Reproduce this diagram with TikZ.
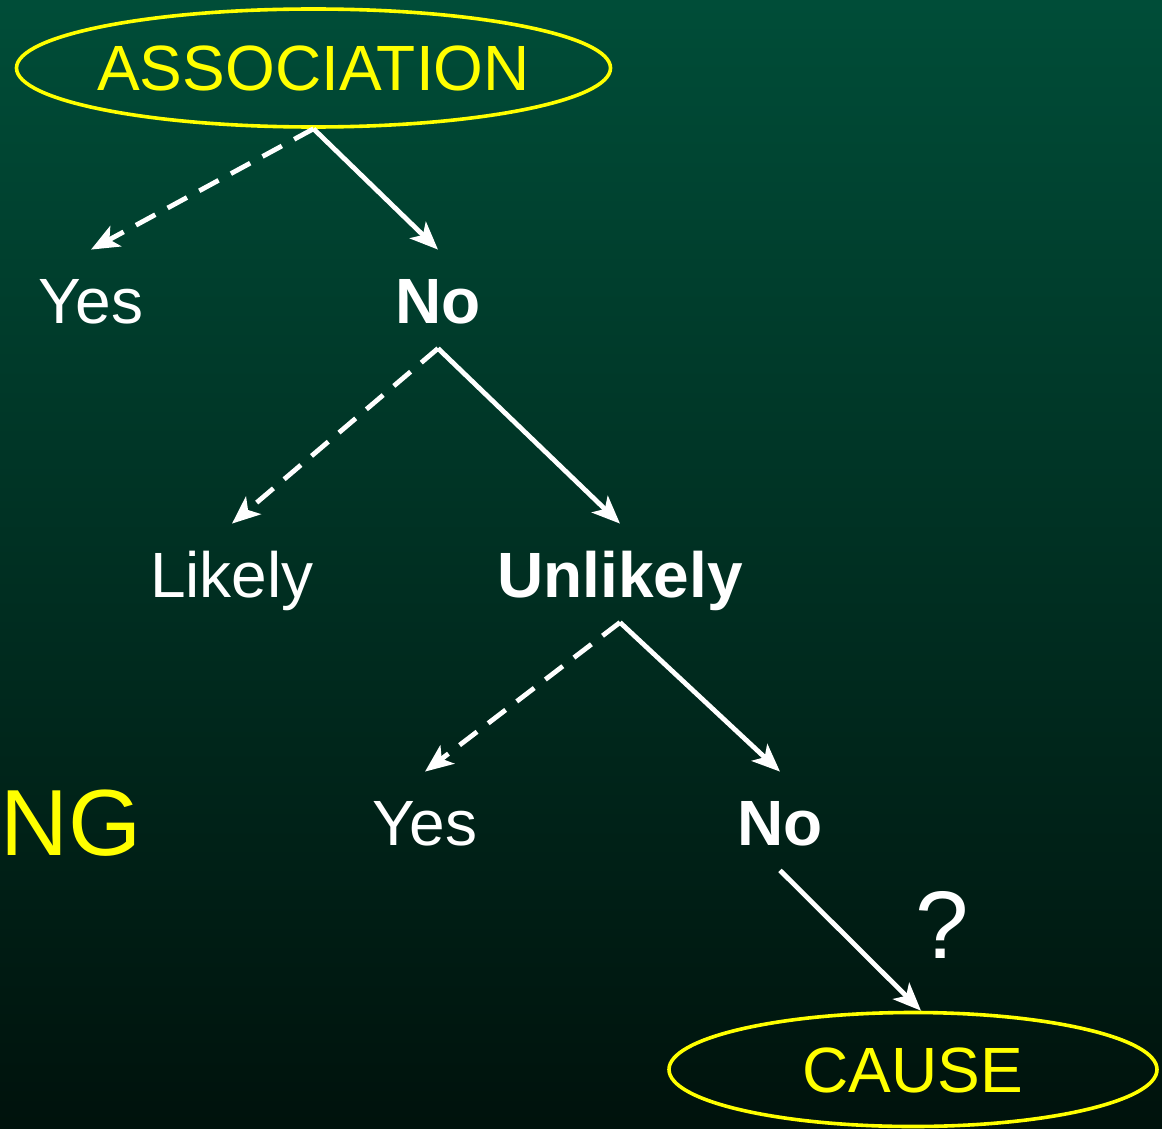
\documentclass[tikz,border=0pt]{standalone}
\usepackage{fontspec}
\setmainfont{Liberation Sans}
\usetikzlibrary{shapes.geometric,arrows.meta}
\definecolor{bgtop}{HTML}{004D38}
\definecolor{bgbot}{HTML}{00120C}
\definecolor{ylw}{HTML}{FFFF00}
\tikzset{
  lbl/.style={text=white, font=\fontsize{32}{36}\selectfont, text height=24pt, text depth=0pt,
              inner xsep=0pt, inner ysep=12.5pt, anchor=base},
  oval/.style={ellipse, draw=ylw, line width=1.8pt, text=ylw, font=\fontsize{32}{36}\selectfont,
               text height=23pt, text depth=0pt, inner sep=0pt},
  tip/.style={-{Stealth[length=14pt,width=11.5pt,inset=3.5pt]}},
  solidarrow/.style={draw=white, line width=2.4pt, tip},
  dasharrow/.style={draw=white, line width=2.4pt, tip, dash pattern=on 11pt off 7pt}
}
\begin{document}
\begin{tikzpicture}[x=0.5pt,y=-0.5pt]
\shade[top color=bgtop, bottom color=bgbot] (0,0) rectangle (1162,1129);
\useasboundingbox (0,0) rectangle (1162,1129);

\node[oval, minimum width=297pt, minimum height=59pt] (assoc) at (313.5,68) {\makebox[0pt]{ASSOCIATION}};
\node[oval, minimum width=244pt, minimum height=57pt] (cause) at (913,1069.5) {\makebox[0pt]{CAUSE}};

\node[lbl] (yes1) at (91,323) {Yes};
\node[lbl, font=\fontsize{32}{36}\selectfont\bfseries] (no1) at (438,323) {No};
\node[lbl] (likely) at (232,597) {Likely};
\node[lbl, font=\fontsize{32}{36}\selectfont\bfseries] (unlikely) at (620,597) {Unlikely};
\node[lbl] (yes2) at (425,845) {Yes};
\node[lbl, font=\fontsize{32}{36}\selectfont\bfseries] (no2) at (780,845) {No};

\node[text=ylw, font=\fontsize{47}{54}\selectfont, anchor=base west, inner sep=0pt] (ng) at (0,855) {NG};
\node[text=white, font=\fontsize{48}{54}\selectfont, anchor=base, inner sep=0pt] (q) at (942,958) {?};

\draw[dasharrow] (assoc.south) -- (yes1.north);
\draw[solidarrow] (assoc.south) -- (no1.north);
\draw[dasharrow] (no1.south) -- (likely.north);
\draw[solidarrow] (no1.south) -- (unlikely.north);
\draw[dasharrow] (unlikely.south) -- (yes2.north);
\draw[solidarrow] (unlikely.south) -- (no2.north);
\draw[solidarrow] (no2.south) -- ([xshift=4pt]cause.north);
\end{tikzpicture}
\end{document}
